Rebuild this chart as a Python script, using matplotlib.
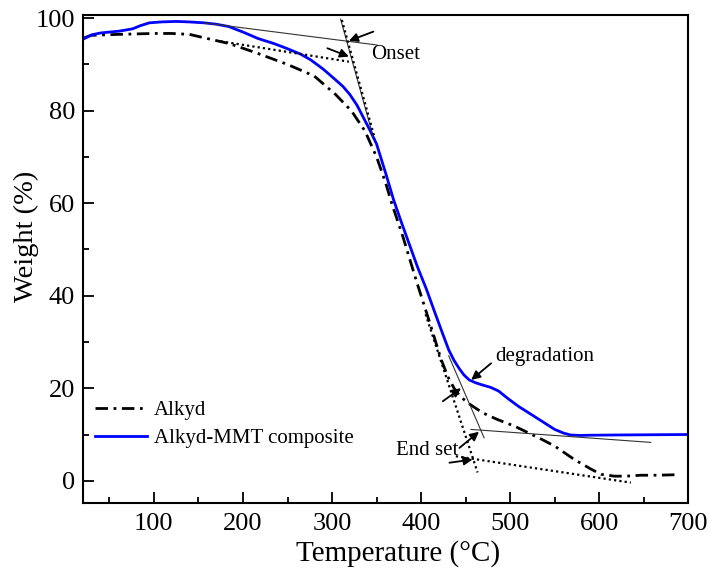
import matplotlib
matplotlib.use("Agg")
import matplotlib.pyplot as plt
from matplotlib.ticker import MultipleLocator

plt.rcParams['font.family'] = ['Liberation Serif', 'DejaVu Serif']

# Alkyd (dash-dot)
alkyd_t = [22, 30, 45, 60, 80, 100, 120, 140, 160, 185, 215, 250, 280, 304, 322, 337, 350,
           360, 367, 380, 395, 410, 422, 430, 437, 444, 455, 469, 485, 505, 520, 535, 550,
           572, 590, 602, 617, 630, 647, 665, 685]
alkyd_w = [95.8, 96.3, 96.4, 96.5, 96.6, 96.7, 96.7, 96.5, 95.6, 94.5, 92.5, 90.0, 87.5,
           83.5, 79.9, 75.6, 70.0, 64.5, 60.0, 52.5, 43.0, 34.0, 26.5, 22.5, 20.0, 18.2,
           16.5, 14.7, 13.3, 11.8, 10.4, 9.0, 7.5, 4.6, 2.6, 1.4, 1.0, 1.0, 1.2, 1.2, 1.3]

# Alkyd-MMT composite (blue)
mmt_t = [22, 30, 40, 50, 61, 76, 85, 95, 109, 125, 139, 156, 170, 184, 200, 217, 235, 250,
         265, 276, 290, 302, 312, 320, 328, 335, 342, 350, 361, 369, 378, 387, 396, 406,
         415, 424, 431, 437, 443, 448, 454, 461, 469, 478, 487, 498, 510, 524, 537, 550,
         560, 568, 578, 590, 620, 660, 700]
mmt_w = [95.6, 96.4, 96.8, 97.0, 97.2, 97.7, 98.4, 99.0, 99.2, 99.3, 99.2, 99.0, 98.7, 98.2,
         97.0, 95.6, 94.5, 93.4, 92.2, 91.0, 89.0, 87.0, 85.3, 83.5, 81.2, 78.6, 76.0, 72.8,
         66.0, 60.8, 55.8, 51.0, 46.2, 41.4, 36.6, 31.9, 28.3, 26.0, 24.2, 22.9, 21.8, 21.2,
         20.7, 20.2, 19.4, 17.7, 16.0, 14.3, 12.7, 11.1, 10.3, 9.9, 9.8, 9.85, 9.9, 9.95, 10.0]

# tangent lines: (T0, W0, T1, W1)
thin_lines = [(156, 99.0, 350.6, 94.2),     # onset baseline, composite
              (309.6, 99.8, 346.0, 74.5),   # onset slope, composite
              (431.0, 27.0, 470.7, 9.3),    # end slope, composite
              (456.0, 11.1, 657.8, 8.3)]    # end baseline, composite
dotted_lines = [(175, 95.0, 318.9, 90.6),   # onset baseline, alkyd
                (311.0, 99.6, 348.0, 74.0), # onset slope, alkyd
                (405.0, 36.0, 463.4, 1.8),  # end slope, alkyd
                (439.0, 5.3, 635.5, -0.4)]  # end baseline, alkyd

# arrows: (tail T, tail W, head T, head W)
arrows = [(346.4, 97.1, 318.9, 95.1),
          (294.8, 93.5, 318.9, 91.7),
          (478.6, 25.4, 456.3, 21.8),
          (443.0, 7.1, 465.0, 10.6),
          (431.8, 3.9, 457.8, 4.6),
          (424.4, 17.2, 444.8, 20.0)]

labels = [("Onset", 343.5, 92.1), ("degradation", 483.5, 26.8), ("End set", 372.0, 6.6)]

fig = plt.figure(figsize=(7.09, 5.73), dpi=100)
ax = fig.add_axes([0.1166, 0.1222, 0.8542, 0.8517])

ax.plot(alkyd_t, alkyd_w, color='black', lw=2.0, linestyle=(0, (4.5, 2, 1, 2)), label='Alkyd')
ax.plot(mmt_t, mmt_w, color='#0000ff', lw=2.0, label='Alkyd-MMT composite')

for t0, w0, t1, w1 in thin_lines:
    ax.plot([t0, t1], [w0, w1], color='#333333', lw=0.8)
for t0, w0, t1, w1 in dotted_lines:
    ax.plot([t0, t1], [w0, w1], color='black', lw=1.6, linestyle=(0, (1, 1.4)))

for t0, w0, t1, w1 in arrows:
    ax.annotate('', xy=(t1, w1), xytext=(t0, w0),
                arrowprops=dict(arrowstyle='-|>', color='black', lw=1.3,
                                mutation_scale=13, shrinkA=0, shrinkB=0))

for txt, t, w in labels:
    ax.text(t, w, txt, fontsize=15, va='center', ha='left')

ax.set_xlim(20, 700)
ax.set_ylim(-4.8, 100.7)
ax.xaxis.set_major_locator(MultipleLocator(100))
ax.xaxis.set_minor_locator(MultipleLocator(50))
ax.yaxis.set_major_locator(MultipleLocator(20))
ax.yaxis.set_minor_locator(MultipleLocator(10))
ax.tick_params(which='both', direction='in', top=False, right=False, width=1.3, labelsize=19)
ax.tick_params(which='major', length=8)
ax.tick_params(axis='x', which='major', pad=7)
ax.tick_params(axis='y', which='major', pad=5.5)
ax.tick_params(which='minor', length=4)
for s in ax.spines.values():
    s.set_linewidth(1.5)

ax.set_xlabel('Temperature (°C)', fontsize=21, labelpad=4)
ax.xaxis.label.set_x(0.52)
ax.set_ylabel('Weight (%)', fontsize=20.5)
ax.yaxis.set_label_coords(-0.072, 0.547)

ax.legend(loc='upper left', bbox_to_anchor=(-0.01, 0.248), frameon=False, fontsize=15,
          handlelength=2.5, handletextpad=0.3, labelspacing=0.4)

fig.savefig('out.png', dpi=100)
